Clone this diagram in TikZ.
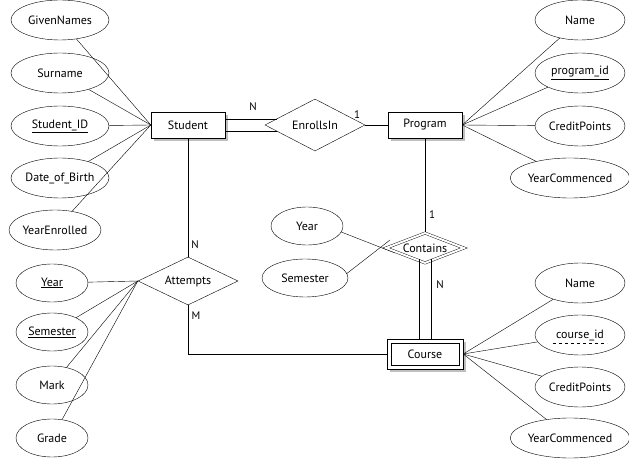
\documentclass[tikz,border=0pt]{standalone}
\usepackage{fontspec}
\setmainfont{PT Sans}
\usetikzlibrary{shapes.geometric,shadows}
\begin{document}
\begin{tikzpicture}[x=1pt,y=-1pt,font=\fontsize{12}{14}\selectfont,
 attr/.style={draw,ellipse,minimum width=98pt,minimum height=40pt,inner sep=0pt},
 sattr/.style={draw,ellipse,minimum width=72pt,minimum height=38pt,inner sep=0pt},
 ent/.style={draw,fill=white,minimum width=74pt,minimum height=26pt,inner sep=0pt,drop shadow={opacity=0.5,shadow xshift=3pt,shadow yshift=-3pt}},
 rel/.style={draw,diamond,aspect=1.9,minimum width=100pt,minimum height=52pt,inner sep=0pt,fill=white},
 lab/.style={font=\fontsize{11}{13}\selectfont}]
\useasboundingbox (0,0) rectangle (629,462);
% entities
\node[ent] (stu) at (188,125) {Student};
\node[ent] (prog) at (425,125) {Program};
\node[ent,minimum width=76pt,minimum height=30pt] (course) at (425,354) {};
\node[draw,minimum width=68pt,minimum height=22pt,inner sep=0pt] (cin) at (425,354) {Course};
% relationships
\node[rel] (enr) at (315,125) {EnrollsIn};
\node[rel,minimum height=48pt] (att) at (188,281) {Attempts};
% left attrs
\node[attr] (gn) at (60,20) {GivenNames};
\node[attr] (sn) at (60,73) {Surname};
\node[attr] (sid) at (60,126) {\underline{Student\_ID}};
\node[attr] (dob) at (60,178) {Date\_of\_Birth};
\node[attr,minimum width=92pt] (ye) at (55,230) {YearEnrolled};
% right attrs
\node[attr,minimum width=90pt] (pn) at (580,20) {Name};
\node[attr,minimum width=90pt] (pid) at (580,73) {\underline{program\_id}};
\node[attr,minimum width=90pt] (pcp) at (580,126) {CreditPoints};
\node[attr,minimum width=110pt] (pyc) at (570,178) {YearCommenced};
% attempts attrs
\node[sattr] (ay) at (52,283) {\underline{Year}};
\node[sattr] (as) at (52,332) {\underline{Semester}};
\node[sattr] (am) at (52,385) {Mark};
\node[sattr] (ag) at (52,438) {Grade};
% contains attrs
\node[sattr] (cy) at (307,226) {Year};
\node[sattr,minimum width=86pt] (cs) at (305,278) {Semester};
% course attrs
\node[attr,minimum width=90pt] (cn) at (580,283) {Name};
\node[attr,minimum width=90pt] (cid) at (580,335) {course\_id};
\draw[dashed] (553,343) -- (607,343);
\node[attr,minimum width=90pt] (ccp) at (580,387) {CreditPoints};
\node[attr,minimum width=110pt] (cyc) at (570,438) {YearCommenced};
% attribute connectors
\foreach \a in {gn,sn,sid,dob,ye} \draw (\a) -- (stu.west);
\foreach \a in {pn,pid,pcp,pyc} \draw (\a) -- (prog.east);
\foreach \a in {ay,as,am,ag} \draw (\a) -- (att.west);
\foreach \a in {cn,cid,ccp,cyc} \draw (\a) -- (course.east);
% relationship connectors
\draw (225,119) -- (277,119);
\draw (225,131) -- (277,131);
\draw (enr.east) -- (prog.west);
\draw (stu.south) -- (att.north);
\coordinate (bend) at (188,354);
\draw (att.south) -- (bend) -- (course.west);
% contains
\draw (prog.south) -- (425,232);
\draw (cy.east) ++(-2,6) -- (395,253);
\draw (cs.east) ++(-2,-4) -- (390,240);
\node[rel,double,double distance=2pt,aspect=2.4,minimum width=78pt,minimum height=30pt] (con) at (425,248) {Contains};
\draw (419,259) -- (419,339);
\draw (431,259) -- (431,339);
% labels
\node[lab] (ln) at (253,107) {N};
\node[lab] (l1) at (357,115) {1};
\node[lab] (l2) at (195,245) {N};
\node[lab] (lm) at (196,316) {M};
\node[lab] (l3) at (432,215) {1};
\node[lab] (l4) at (440,285) {N};
\end{tikzpicture}
\end{document}
